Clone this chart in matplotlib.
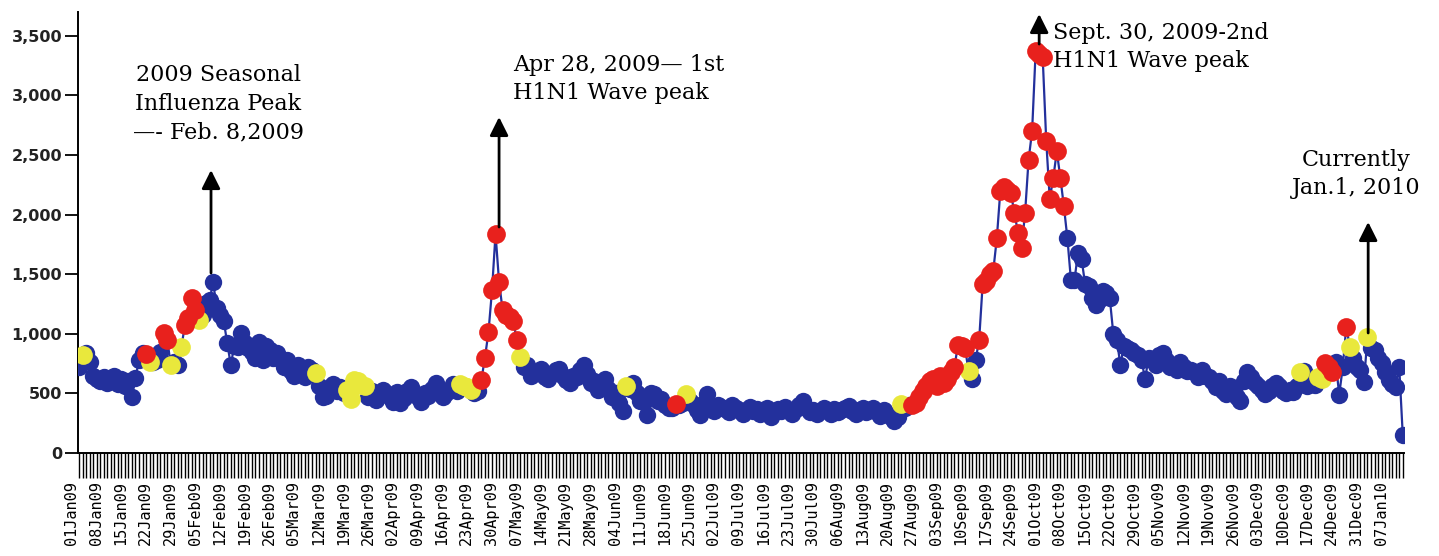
"""Daily influenza counts 2009 with seasonal / H1N1 wave annotations."""

import numpy as np
import pandas as pd
import matplotlib

matplotlib.use("Agg")
import matplotlib.pyplot as plt


START = "2009-01-01"

# daily counts
jan09 = [720, 820, 840, 760, 650, 620, 600,
         640, 590, 610, 650, 580, 620, 560,
         600, 470, 630, 780, 840, 830, 760,
         760, 780, 850, 1010, 950, 740, 760,
         740, 890, 1070]
feb09 = [1130, 1300, 1200, 1120,
         1160, 1260, 1280, 1435, 1220, 1160, 1110,
         920, 740, 900, 890, 1010, 920, 880,
         850, 800, 930, 780, 900, 860, 800,
         840, 790, 720]
mar09 = [780, 690, 650, 740,
         700, 640, 720, 700, 670, 560, 470,
         480, 550, 580, 520, 550, 500, 530,
         450, 610, 600, 570, 560, 470, 520,
         445, 490, 528, 500, 470, 430]
apr09 = [510,
         420, 460, 520, 554, 500, 470, 430,
         504, 480, 540, 587, 520, 470, 500,
         528, 580, 520, 580, 560, 550, 530,
         500, 520, 615, 800, 1015, 1365, 1840,
         1435]
may09 = [1200, 1160, 1140, 1110, 950, 805,
         720, 740, 650, 680, 670, 705, 640,
         620, 660, 700, 705, 650, 610, 590,
         646, 640, 700, 738, 660, 590, 600,
         528, 560, 620, 540]
jun09 = [470, 500, 420,
         352, 560, 540, 587, 500, 436, 430,
         319, 500, 495, 436, 450, 400, 380,
         380, 411, 400, 420, 495, 440, 411,
         360, 319, 420, 495, 378, 350]
jul09 = [400,
         390, 370, 340, 400, 380, 360, 330,
         360, 390, 350, 370, 330, 360, 380,
         300, 340, 370, 350, 390, 360, 330,
         370, 400, 436, 380, 340, 360, 330,
         350, 380]
aug09 = [360, 330, 370, 340, 360,
         380, 395, 350, 330, 360, 380, 340,
         360, 378, 340, 310, 360, 330, 300,
         270, 300, 410, 380, 400, 400, 420,
         470, 520, 562, 600, 620]
sep09 = [560, 646,
         590, 620, 680, 720, 910, 900, 880,
         690, 620, 780, 950, 1420, 1440, 1500,
         1530, 1800, 2200, 2230, 2210, 2180, 2010,
         1850, 1720, 2010, 2460, 2700, 3370, 3350]
oct09 = [3320,
         2620, 2130, 2310, 2530, 2310, 2070, 1800,
         1450, 1450, 1680, 1630, 1420, 1400, 1300,
         1240, 1280, 1360, 1340, 1300, 1000, 950,
         740, 900, 880, 860, 840, 820, 780,
         620, 800]
nov09 = [780, 740, 820, 840, 780, 720, 740,
         700, 760, 720, 690, 700, 680, 640,
         700, 650, 640, 600, 555, 600, 520,
         495, 560, 520, 470, 440, 600, 680,
         640, 590]
dec09 = [560, 530, 495, 520, 560, 587, 560,
         520, 500, 530, 510, 560, 680, 690,
         560, 580, 570, 640, 620, 755, 720,
         680, 760, 490, 720, 1060, 890, 800,
         720, 700, 596]
jan10 = [970, 880, 864, 800, 755, 680, 612, 580, 554, 722, 150]

# day indexes (from 01 Jan 09) of the flagged points
red_days = [19, 24, 25, 30, 31, 32, 33,
            114, 115, 116, 117, 118, 119, 120, 121, 122, 123, 124,
            169,
            236, 237, 238, 239, 240, 241, 242, 243, 244, 245, 246, 247,
            248, 249, 250, 251,
            255, 256, 257, 258, 259, 260, 261, 262, 263, 264, 265, 266,
            267, 268, 269, 270, 271, 272, 273, 274, 275, 276, 277, 278, 279,
            353, 354, 355, 359]
yellow_days = [1, 20, 26, 29, 34, 67, 76, 77, 78, 79, 80, 81,
               108, 109, 110, 111, 125, 155, 172, 233, 252,
               346, 351, 352, 360, 365]

y_ticks = [0, 500, 1000, 1500, 2000, 2500, 3000, 3500]
y_tick_labels = ["0", "500", "1,000", "1,500", "2,000", "2,500", "3,000", "3,500"]

BLUE = "#23309c"
RED = "#e8211d"
YELLOW = "#e9e83c"

values = np.array(jan09 + feb09 + mar09 + apr09 + may09 + jun09 + jul09
                  + aug09 + sep09 + oct09 + nov09 + dec09 + jan10, dtype=float)
days = np.arange(len(values))
dates = pd.date_range(START, periods=len(values), freq="D")
week_ticks = days[::7]
week_labels = [d.strftime("%d%b%y") for d in dates[::7]]

flag = np.array(["b"] * len(values))
flag[red_days] = "r"
flag[yellow_days] = "y"

fig = plt.figure(figsize=(14.39, 5.56), dpi=100)
ax = fig.add_axes([78 / 1439, 1 - 453 / 556, 1326 / 1439, 441 / 556])

ax.plot(days, values, color=BLUE, lw=1.6, zorder=2)
for code, c, ms in [("b", BLUE, 12.5), ("y", YELLOW, 13.5), ("r", RED, 13.5)]:
    m = flag == code
    ax.plot(days[m], values[m], "o", ls="none", ms=ms, color=c, mew=0, zorder=3)

ax.set_xlim(-0.28, 375.35)
ax.set_ylim(0, 3700)
for s in ["top", "right"]:
    ax.spines[s].set_visible(False)
for s in ["left", "bottom"]:
    ax.spines[s].set_linewidth(1.4)
    ax.spines[s].set_color("black")

ax.set_yticks(y_ticks, y_tick_labels, fontweight="bold", fontsize=11.5,
              color="#222222")
ax.tick_params(axis="y", length=9.5, width=1.3, pad=2)

ax.set_xticks(days, minor=True)
ax.set_xticks(week_ticks, week_labels, rotation=90, ha="right",
              family="DejaVu Sans Mono", fontsize=11)
ax.tick_params(axis="x", which="both", length=18, width=1.0, pad=2)

# ---- annotations ----
txt = dict(family="DejaVu Serif", fontsize=16, linespacing=1.4,
           va="center", color="black")
arrow = dict(arrowstyle="-|>,head_length=0.4,head_width=0.2",
             mutation_scale=28, lw=2, color="black", shrinkA=0, shrinkB=0)

ax.text(39.4, 2928, "2009 Seasonal\nInfluenza Peak\n—- Feb. 8,2009",
        ha="center", **txt)
ax.annotate("", xy=(37.4, 2374), xytext=(37.4, 1510), arrowprops=arrow)

ax.text(122.9, 3138, "Apr 28, 2009— 1st\nH1N1 Wave peak", ha="left", **txt)
ax.annotate("", xy=(119, 2819), xytext=(119, 1896), arrowprops=arrow)

ax.text(275.9, 3406, "Sept. 30, 2009-2nd\nH1N1 Wave peak", ha="left", **txt)
ax.annotate("", xy=(272, 3683), xytext=(272, 3431), arrowprops=arrow,
            annotation_clip=False)

ax.text(361.8, 2341, "Currently\nJan.1, 2010", ha="center", **txt)
ax.annotate("", xy=(365.2, 1938), xytext=(365.2, 1007), arrowprops=arrow)

fig.savefig("out.png", dpi=100)
